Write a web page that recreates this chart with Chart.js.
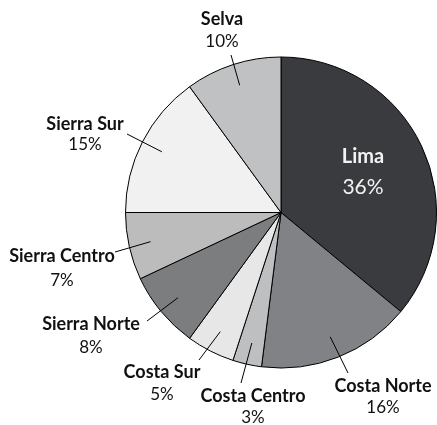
<!DOCTYPE html>
<html>
<head>
<meta charset="utf-8">
<script src="https://cdn.jsdelivr.net/npm/chart.js@4"></script>
<style>
    html, body { margin: 0; padding: 0; background: #ffffff; }
    #pieChart { display: block; }
</style>
</head>
<body>
<canvas id="pieChart" width="437" height="425"></canvas>
<script>
const regiones = ['Lima', 'Costa Norte', 'Costa Centro', 'Costa Sur', 'Sierra Norte', 'Sierra Centro', 'Sierra Sur', 'Selva'];
const porcentajes = [36, 16, 3, 5, 8, 7, 15, 10];
const colores = ['#3a3b3f', '#808285', '#bdbfc1', '#e6e7e6', '#7b7d7e', '#bbbcbb', '#f0f1f0', '#bfc1c2'];

// posicion de cada etiqueta (centro del nombre) y fin de la linea guia
const etiquetas = [
    { x: 363, y: 157, gap: 30, size: 20, inside: true },
    { x: 383, y: 386, gap: 22, size: 18, lx: 348, ly: 373 },
    { x: 253, y: 396, gap: 22, size: 18, lx: 241, ly: 383 },
    { x: 162, y: 372, gap: 23, size: 18, lx: 199, ly: 360 },
    { x: 91, y: 324, gap: 24, size: 18, lx: 147, ly: 321 },
    { x: 62, y: 256, gap: 25, size: 18, lx: 115, ly: 252 },
    { x: 85, y: 124, gap: 21, size: 18, lx: 127, ly: 134 },
    { x: 222, y: 19, gap: 23, size: 18, lx: 231, ly: 55 }
];

const etiquetasPlugin = {
    id: 'etiquetas',
    afterDatasetsDraw(chart) {
        const ctx = chart.ctx;
        const arcs = chart.getDatasetMeta(0).data;
        ctx.save();
        ctx.textAlign = 'center';
        ctx.textBaseline = 'middle';
        arcs.forEach((arc, i) => {
            const pos = etiquetas[i];
            const { x, y, startAngle, endAngle, outerRadius } = arc.getProps(['x', 'y', 'startAngle', 'endAngle', 'outerRadius'], true);
            const mid = (startAngle + endAngle) / 2;
            if (!pos.inside) {
                const ax = x + Math.cos(mid) * outerRadius * 0.86;
                const ay = y + Math.sin(mid) * outerRadius * 0.86;
                ctx.strokeStyle = '#000000';
                ctx.lineWidth = 1;
                ctx.beginPath();
                ctx.moveTo(ax, ay);
                ctx.lineTo(pos.lx, pos.ly);
                ctx.stroke();
            }
            ctx.fillStyle = pos.inside ? '#f2f2f2' : '#111111';
            ctx.font = 'bold ' + pos.size + 'px Lato';
            ctx.fillText(regiones[i], pos.x, pos.y);
            ctx.font = (pos.inside ? pos.size + 1 : pos.size - 1) + 'px Lato';
            ctx.fillText(porcentajes[i] + '%', pos.x, pos.y + pos.gap);
        });
        ctx.restore();
    }
};

const context = document.getElementById('pieChart').getContext('2d');

new Chart(context, {
    type: 'pie',
    data: {
        labels: regiones,
        datasets: [{
            data: porcentajes,
            backgroundColor: colores,
            borderColor: '#000000',
            borderWidth: 1
        }]
    },
    options: {
        responsive: false,
        animation: false,
        layout: {
            padding: { left: 125, right: 0, top: 56, bottom: 56 }
        },
        plugins: {
            legend: { display: false },
            tooltip: { enabled: false }
        }
    },
    plugins: [etiquetasPlugin]
});
</script>
</body>
</html>
